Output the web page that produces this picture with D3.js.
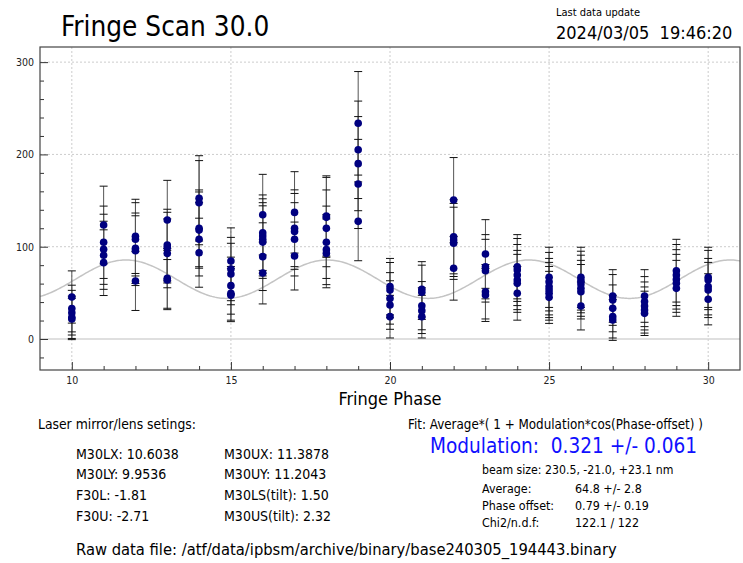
<!DOCTYPE html>
<html>
<head>
<meta charset="utf-8">
<script src="https://cdn.jsdelivr.net/npm/d3@7"></script>
<style>
  body { margin: 0; background: #fff; }
  svg { display: block; }
  text { white-space: pre; }
</style>
</head>
<body>
<svg id="chart" width="743" height="563"></svg>
<script>
// Fringe phase positions of the scan
var phases = [10, 11, 12, 13, 14, 15, 16, 17, 18, 19, 20, 21, 22, 23, 24, 25, 26, 27, 28, 29, 30];

// Measured signals at each phase (several shots per phase)
var signals = [
    [45.5, 33.0, 28.5, 23.5, 21.7],
    [123.5, 104.8, 97.2, 90.7, 82.7],
    [111.2, 108.0, 98.3, 95.7, 62.8],
    [129.0, 101.8, 99.0, 92.8, 65.7, 63.9],
    [152.4, 147.7, 119.9, 118.0, 108.0, 93.5],
    [84.5, 75.8, 70.4, 57.8, 49.5, 47.5],
    [134.7, 115.2, 111.6, 108.0, 105.0, 89.2, 71.5],
    [137.2, 120.0, 116.6, 108.0, 89.9],
    [133.3, 131.8, 119.9, 104.8, 96.8, 92.8],
    [233.7, 205.0, 190.0, 168.0, 127.5],
    [56.7, 53.0, 44.0, 36.8, 24.2],
    [53.8, 50.6, 36.1, 30.7, 24.2],
    [150.6, 110.8, 107.3, 103.7, 76.6],
    [92.1, 78.3, 74.0, 51.2, 47.7],
    [78.3, 74.8, 69.3, 63.9, 60.3, 49.5],
    [66.8, 62.1, 56.7, 53.1, 49.5, 45.1],
    [66.8, 63.2, 59.6, 54.9, 51.2, 35.8],
    [46.6, 42.3, 33.2, 24.2, 20.6],
    [46.6, 40.5, 35.8, 31.4, 27.8],
    [74.0, 69.3, 64.6, 60.3, 54.9],
    [66.8, 63.9, 56.7, 53.1, 43.0]
];

// Error of each shot, same layout as signals
var errors = [
    [28.3, 25.3, 24.2, 22.9, 22.4],
    [42.1, 39.2, 38.0, 36.9, 35.6],
    [40.2, 39.7, 38.2, 37.8, 31.9],
    [42.9, 38.8, 38.3, 37.3, 32.4, 32.1],
    [46.2, 45.6, 41.6, 41.3, 39.7, 37.4],
    [35.9, 34.3, 33.3, 30.9, 29.1, 28.7],
    [43.7, 40.9, 40.3, 39.7, 39.3, 36.7, 33.5],
    [44.1, 41.6, 41.1, 39.7, 36.8],
    [43.5, 43.3, 41.6, 39.2, 37.9, 37.3],
    [56.1, 52.8, 51.0, 48.3, 42.7],
    [30.6, 29.9, 27.9, 26.3, 23.1],
    [30.0, 29.4, 26.1, 24.8, 23.1],
    [46.0, 40.2, 39.6, 39.1, 34.5],
    [37.2, 34.8, 34.0, 29.5, 28.7],
    [34.8, 34.1, 33.1, 32.1, 31.4, 29.1],
    [32.6, 31.7, 30.6, 29.9, 29.1, 28.2],
    [32.6, 31.9, 31.2, 30.3, 29.5, 26.0],
    [28.5, 27.5, 25.4, 23.1, 22.1],
    [28.5, 27.1, 26.0, 25.0, 24.0],
    [34.0, 33.1, 32.2, 31.4, 30.3],
    [32.6, 32.1, 30.6, 29.9, 27.7]
];

// Fit result: Average*(1 + Modulation*cos(phase - offset))
var fitAverage = 64.8;
var fitModulation = 0.321;
var fitPeriod = 6.33;     // fringe period in phase units
var fitPeakPhase = 11.7;  // phase of a fit maximum

var xTicks = [10, 15, 20, 25, 30];
var yTicks = [0, 100, 200, 300];

var settingsLeft = ["M30LX: 10.6038", "M30LY: 9.9536", "F30L: -1.81", "F30U: -2.71"];
var settingsRight = ["M30UX: 11.3878", "M30UY: 11.2043", "M30LS(tilt): 1.50", "M30US(tilt): 2.32"];
var fitLabels = ["Average:", "Phase offset:", "Chi2/n.d.f:"];
var fitValues = ["64.8 +/- 2.8", "0.79 +/- 0.19", "122.1 / 122"];

var font = "'DejaVu Sans Condensed', 'DejaVu Sans', sans-serif";

var plotLeft = 40, plotRight = 740, plotTop = 47, plotBottom = 370;

var svg = d3.select("#chart");

var x = d3.scaleLinear().domain([9, 31]).range([plotLeft, plotRight]);
var y = d3.scaleLinear().domain([-33.6, 316.4]).range([plotBottom, plotTop]);

// grid
svg.append("g").selectAll("line").data(xTicks).enter().append("line")
    .attr("x1", d => x(d)).attr("x2", d => x(d))
    .attr("y1", plotTop).attr("y2", plotBottom)
    .attr("stroke", "#ccc").attr("stroke-dasharray", "2,2");
svg.append("g").selectAll("line").data(yTicks.filter(d => d > 0)).enter().append("line")
    .attr("x1", plotLeft).attr("x2", plotRight)
    .attr("y1", d => y(d)).attr("y2", d => y(d))
    .attr("stroke", "#ccc").attr("stroke-dasharray", "2,2");
// zero line
svg.append("line")
    .attr("x1", plotLeft).attr("x2", plotRight)
    .attr("y1", y(0)).attr("y2", y(0))
    .attr("stroke", "#d4d4d4").attr("stroke-width", 1.5);

// fit curve
var fitPoints = d3.range(9, 31.001, 0.05);
var fitLine = d3.line()
    .x(d => x(d))
    .y(d => y(fitAverage * (1 + fitModulation * Math.cos(2 * Math.PI * (d - fitPeakPhase) / fitPeriod))));
svg.append("path")
    .datum(fitPoints)
    .attr("fill", "none")
    .attr("stroke", "#c4c4c4")
    .attr("stroke-width", 1.5)
    .attr("d", fitLine);

// flatten the shots
var shots = [];
phases.forEach(function(p, i) {
    signals[i].forEach(function(v, j) {
        shots.push({phase: p, value: v, err: errors[i][j]});
    });
});

// error bars
var bars = svg.append("g");
bars.selectAll("line.bar").data(shots).enter().append("line")
    .attr("class", "bar")
    .attr("x1", d => x(d.phase)).attr("x2", d => x(d.phase))
    .attr("y1", d => y(d.value + d.err)).attr("y2", d => y(d.value - d.err))
    .attr("stroke", "#555").attr("stroke-width", 1);
bars.selectAll("line.capTop").data(shots).enter().append("line")
    .attr("class", "capTop")
    .attr("x1", d => x(d.phase) - 4).attr("x2", d => x(d.phase) + 4)
    .attr("y1", d => y(d.value + d.err)).attr("y2", d => y(d.value + d.err))
    .attr("stroke", "#111").attr("stroke-width", 1);
bars.selectAll("line.capBot").data(shots).enter().append("line")
    .attr("class", "capBot")
    .attr("x1", d => x(d.phase) - 4).attr("x2", d => x(d.phase) + 4)
    .attr("y1", d => y(d.value - d.err)).attr("y2", d => y(d.value - d.err))
    .attr("stroke", "#111").attr("stroke-width", 1);

// points
svg.append("g").selectAll("circle").data(shots).enter().append("circle")
    .attr("cx", d => x(d.phase))
    .attr("cy", d => y(d.value))
    .attr("r", 3.8)
    .attr("fill", "#000080");

// axes (ticks inside the frame)
var xAxis = d3.axisBottom(x).tickValues(d3.range(10, 31, 1))
    .tickSize(-5).tickFormat(d => xTicks.includes(d) ? d : "");
var gX = svg.append("g").attr("transform", "translate(0," + plotBottom + ")").call(xAxis);
gX.selectAll(".tick line").attr("y2", d => xTicks.includes(d) ? -8 : -4);

var yAxis = d3.axisLeft(y).tickValues(d3.range(-20, 320, 20))
    .tickSize(-5).tickFormat(d => yTicks.includes(d) ? d : "");
var gY = svg.append("g").attr("transform", "translate(" + plotLeft + ",0)").call(yAxis);
gY.selectAll(".tick line").attr("x2", d => yTicks.includes(d) ? 8 : 4);

[gX, gY].forEach(function(g) {
    g.select(".domain").remove();
    g.selectAll(".tick line").attr("stroke", "#333");
    g.selectAll(".tick text").attr("font-family", font).attr("font-size", 10.5).attr("fill", "#222");
});
gX.selectAll(".tick text").attr("dy", "0.95em").attr("y", 4);
gY.selectAll(".tick text").attr("x", -6);

// frame
svg.append("rect")
    .attr("x", plotLeft).attr("y", plotTop)
    .attr("width", plotRight - plotLeft).attr("height", plotBottom - plotTop)
    .attr("fill", "none").attr("stroke", "#444").attr("stroke-width", 1.2);

// titles
svg.append("text").attr("x", 61).attr("y", 36)
    .attr("font-family", font).attr("font-size", 27.7).attr("fill", "#000")
    .text("Fringe Scan 30.0");
svg.append("text").attr("x", 556).attr("y", 16)
    .attr("font-family", font).attr("font-size", 11).attr("fill", "#000")
    .text("Last data update");
svg.append("text").attr("x", 556).attr("y", 39)
    .attr("font-family", font).attr("font-size", 18).attr("fill", "#000")
    .text("2024/03/05  19:46:20");
svg.append("text").attr("x", (plotLeft + plotRight) / 2).attr("y", 405)
    .attr("text-anchor", "middle")
    .attr("font-family", font).attr("font-size", 18).attr("fill", "#000")
    .text("Fringe Phase");

// laser settings block
var info = svg.append("g").attr("font-family", font).attr("fill", "#000");
info.append("text").attr("x", 38).attr("y", 429).attr("font-size", 13.8)
    .text("Laser mirror/lens setings:");
var rowY = [459, 479, 500, 521];
settingsLeft.forEach(function(t, i) {
    info.append("text").attr("x", 76).attr("y", rowY[i]).attr("font-size", 14).text(t);
});
settingsRight.forEach(function(t, i) {
    info.append("text").attr("x", 224).attr("y", rowY[i]).attr("font-size", 14).text(t);
});

// fit block
info.append("text").attr("x", 408).attr("y", 429).attr("font-size", 13.3)
    .text("Fit: Average*( 1 + Modulation*cos(Phase-offset) )");
info.append("text").attr("x", 430).attr("y", 453).attr("font-size", 20.6).attr("fill", "#1010ff")
    .text("Modulation:  0.321 +/- 0.061");
info.append("text").attr("x", 482).attr("y", 474).attr("font-size", 12.2)
    .text("beam size: 230.5, -21.0, +23.1 nm");
var fitY = [493, 510, 527];
fitLabels.forEach(function(t, i) {
    info.append("text").attr("x", 482).attr("y", fitY[i]).attr("font-size", 12.4).text(t);
    info.append("text").attr("x", 575).attr("y", fitY[i]).attr("font-size", 12.4).text(fitValues[i]);
});

info.append("text").attr("x", 76).attr("y", 555).attr("font-size", 16.4)
    .text("Raw data file: /atf/data/ipbsm/archive/binary/base240305_194443.binary");
</script>
</body>
</html>
